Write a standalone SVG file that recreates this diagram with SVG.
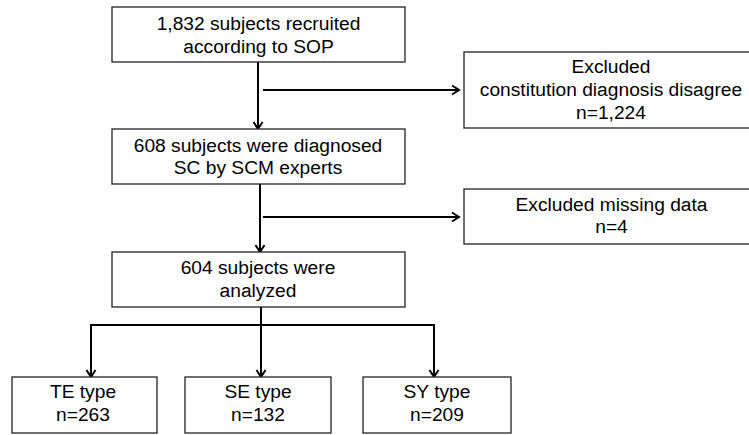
<svg xmlns="http://www.w3.org/2000/svg" width="749" height="435" viewBox="0 0 749 435">
<style>
.box{fill:#fff;stroke:#222;stroke-width:1.3}
.t{font-family:"Liberation Sans",Arial,sans-serif;font-size:19.2px;fill:#000;text-anchor:middle}
.c{fill:none;stroke:#000;stroke-width:2}
</style>
<defs>
<marker id="ah" markerWidth="12" markerHeight="12" refX="10" refY="6" orient="auto" markerUnits="userSpaceOnUse">
<polyline points="3,1.5 10,6 3,10.5" fill="none" stroke="#000" stroke-width="2"/>
</marker>
</defs>
<rect width="749" height="435" fill="#fff"/>
<g id="connectors">
<line class="c" x1="258" y1="62" x2="258" y2="129" marker-end="url(#ah)"/>
<line class="c" x1="263" y1="90" x2="459" y2="90" marker-end="url(#ah)"/>
<line class="c" x1="260" y1="184" x2="260" y2="252" marker-end="url(#ah)"/>
<line class="c" x1="263" y1="217" x2="459" y2="217" marker-end="url(#ah)"/>
<line class="c" x1="261" y1="307" x2="261" y2="377" marker-end="url(#ah)"/>
<polyline class="c" points="91,377 91,325 261,325"/>
<line class="c" x1="91" y1="325" x2="91" y2="377" marker-end="url(#ah)"/>
<polyline class="c" points="261,325 434,325 434,377" marker-end="url(#ah)"/>
</g>
<g id="n1"><rect class="box" x="112" y="7" width="293" height="55"/>
<text class="t" x="258.5" y="30">1,832 subjects recruited</text>
<text class="t" x="258.5" y="52.5">according to SOP</text></g>
<g id="n2"><rect class="box" x="464" y="52" width="290" height="76"/>
<text class="t" x="611" y="73">Excluded</text>
<text class="t" x="611" y="96">constitution diagnosis disagree</text>
<text class="t" x="611" y="119">n=1,224</text></g>
<g id="n3"><rect class="box" x="112" y="129" width="293" height="55"/>
<text class="t" x="258" y="151.5">608 subjects were diagnosed</text>
<text class="t" x="258" y="174">SC by SCM experts</text></g>
<g id="n4"><rect class="box" x="464" y="189" width="290" height="55"/>
<text class="t" x="611.5" y="210.5">Excluded missing data</text>
<text class="t" x="611.5" y="233">n=4</text></g>
<g id="n5"><rect class="box" x="112" y="252" width="293" height="55"/>
<text class="t" x="258" y="274">604 subjects were</text>
<text class="t" x="258" y="296.5">analyzed</text></g>
<g id="n6"><rect class="box" x="12" y="377" width="145" height="56"/>
<text class="t" x="83" y="398">TE type</text>
<text class="t" x="83" y="420.5">n=263</text></g>
<g id="n7"><rect class="box" x="185" y="377" width="146" height="56"/>
<text class="t" x="258" y="398">SE type</text>
<text class="t" x="258" y="420.5">n=132</text></g>
<g id="n8"><rect class="box" x="363" y="377" width="148" height="56"/>
<text class="t" x="437" y="398">SY type</text>
<text class="t" x="437" y="420.5">n=209</text></g>
</svg>
